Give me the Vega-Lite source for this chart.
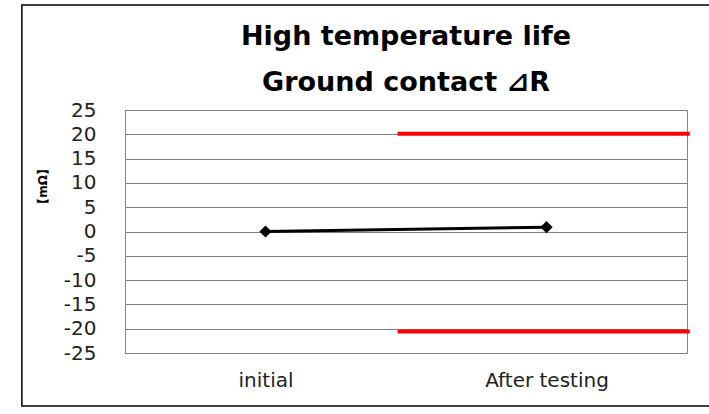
{
  "$schema": "https://vega.github.io/schema/vega-lite/v6.json",
  "width": 562,
  "height": 243,
  "autosize": "none",
  "padding": {"left": 125, "top": 110, "right": 22, "bottom": 61},
  "background": "white",
  "config": {
    "view": {"stroke": "#888888", "strokeWidth": 1},
    "font": "DejaVu Sans"
  },
  "title": {
    "text": ["High temperature life", "Ground contact ⊿R"],
    "font": "DejaVu Sans",
    "fontSize": 27,
    "fontWeight": "bold",
    "lineHeight": 46,
    "anchor": "middle",
    "frame": "group",
    "offset": -93,
    "color": "#000000"
  },
  "datasets": {
    "series": [
      {"stage": "initial", "dR": 0},
      {"stage": "After testing", "dR": 0.9}
    ],
    "limits": [
      {"limit": "upper", "start": 0.97, "end": 2.01, "value": 20.1},
      {"limit": "lower", "start": 0.97, "end": 2.01, "value": -20.6}
    ]
  },
  "layer": [
    {
      "data": {"name": "series"},
      "mark": {"type": "line", "color": "#000000", "strokeWidth": 3,
        "point": {"shape": "diamond", "size": 150, "filled": true, "color": "#000000"}},
      "encoding": {
        "x": {"field": "stage", "type": "nominal", "sort": ["initial", "After testing"],
          "axis": {"title": null, "orient": "bottom", "domain": false, "ticks": false, "labelAngle": 0,
            "labelFontSize": 20, "labelPadding": 17, "labelColor": "#222222", "grid": false}},
        "y": {"field": "dR", "type": "quantitative", "scale": {"domain": [-25, 25]},
          "axis": {"title": "【mΩ】", "values": [-25, -20, -15, -10, -5, 0, 5, 10, 15, 20, 25], "grid": true,
            "gridColor": "#808080", "gridWidth": 1, "domain": false, "ticks": false,
            "labelOverlap": false, "labelBound": false,
            "labelExpr": "datum.value < 0 ? '-' + abs(datum.value) : '' + datum.value",
            "labelFontSize": 20, "labelColor": "#222222", "labelPadding": 29,
            "titleFontSize": 12, "titleFontWeight": "bold", "titleColor": "#000000",
            "titleX": -76, "titleY": 76}}
      }
    },
    {
      "layer": [
        {
          "data": {"name": "limits"},
          "mark": {"type": "rule", "color": "#ff0000", "strokeWidth": 4, "clip": false},
          "encoding": {
            "x": {"field": "start", "type": "quantitative", "scale": {"domain": [0, 2]}, "axis": null},
            "x2": {"field": "end"},
            "y": {"field": "value", "type": "quantitative",
              "axis": {"title": "【mΩ】", "values": [-25, -20, -15, -10, -5, 0, 5, 10, 15, 20, 25], "grid": true,
                "gridColor": "#808080", "gridWidth": 1, "domain": false, "ticks": false,
                "labelOverlap": false, "labelBound": false,
                "labelExpr": "datum.value < 0 ? '-' + abs(datum.value) : '' + datum.value",
                "labelFontSize": 20, "labelColor": "#222222", "labelPadding": 29,
                "titleFontSize": 12, "titleFontWeight": "bold", "titleColor": "#000000",
                "titleX": -76, "titleY": 76}}
          }
        },
        {
          "data": {"values": [{}]},
          "mark": {"type": "rect", "fill": null, "fillOpacity": 0, "stroke": "#000000", "strokeWidth": 1.5, "clip": false},
          "encoding": {
            "x": {"datum": -0.367, "type": "quantitative", "axis": null},
            "x2": {"datum": 2.1},
            "y": {"datum": 46.6, "type": "quantitative",
              "axis": {"title": "【mΩ】", "values": [-25, -20, -15, -10, -5, 0, 5, 10, 15, 20, 25], "grid": true,
                "gridColor": "#808080", "gridWidth": 1, "domain": false, "ticks": false,
                "labelOverlap": false, "labelBound": false,
                "labelExpr": "datum.value < 0 ? '-' + abs(datum.value) : '' + datum.value",
                "labelFontSize": 20, "labelColor": "#222222", "labelPadding": 29,
                "titleFontSize": 12, "titleFontWeight": "bold", "titleColor": "#000000",
                "titleX": -76, "titleY": 76}},
            "y2": {"datum": -35.9}
          }
        }
      ]
    }
  ],
  "resolve": {"scale": {"x": "independent"}}
}
